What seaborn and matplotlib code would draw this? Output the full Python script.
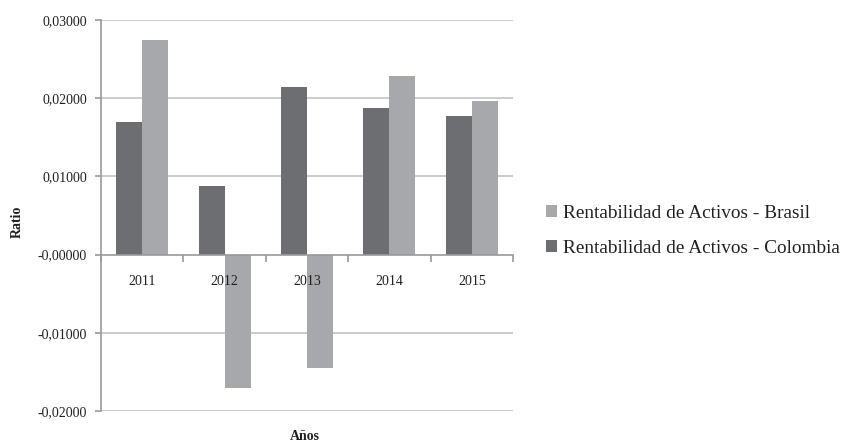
import matplotlib
matplotlib.use("Agg")
import matplotlib.pyplot as plt
import seaborn as sns
import pandas as pd
from matplotlib.ticker import FixedLocator, FixedFormatter

years = ["2011", "2012", "2013", "2014", "2015"]
colombia = [0.0169, 0.0088, 0.0214, 0.0187, 0.0177]
brasil = [0.0274, -0.0171, -0.0145, 0.0228, 0.0197]
series_names = ["Rentabilidad de Activos - Colombia", "Rentabilidad de Activos - Brasil"]
y_ticks = [-0.02, -0.01, 0.0, 0.01, 0.02, 0.03]
y_labels = ["-0,02000", "-0,01000", "-0,00000", "0,01000", "0,02000", "0,03000"]

df = pd.DataFrame({
    "Año": years * 2,
    "Serie": [series_names[0]] * len(years) + [series_names[1]] * len(years),
    "Ratio": colombia + brasil,
})

sns.set_theme(style="white")
plt.rcParams["font.family"] = ["Liberation Serif", "DejaVu Serif"]

fig = plt.figure(figsize=(8.47, 4.43), dpi=100)
ax = fig.add_axes([101 / 847, 1 - 411 / 443, (513 - 101) / 847, (411 - 20) / 443])

palette = {series_names[0]: "#6d6e71", series_names[1]: "#a7a8ab"}
sns.barplot(data=df, x="Año", y="Ratio", hue="Serie", hue_order=series_names,
            palette=palette, width=0.63, saturation=1, linewidth=0, ax=ax, legend=True)

ax.set_ylim(-0.02, 0.03)
ax.set_xlim(-0.5, 4.5)
ax.yaxis.set_major_locator(FixedLocator(y_ticks))
ax.yaxis.set_major_formatter(FixedFormatter(y_labels))
ax.grid(False)
for yv in y_ticks:
    if yv != 0:
        ax.axhline(yv, color="#c8c8c8", linewidth=1.3, zorder=0.5)
ax.set_axisbelow(False)

for s in ["top", "right"]:
    ax.spines[s].set_visible(False)
ax.spines["left"].set_color("#9a9a9a")
ax.spines["left"].set_linewidth(1.2)
ax.spines["bottom"].set_position(("data", 0))
ax.spines["bottom"].set_color("#9a9a9a")
ax.spines["bottom"].set_linewidth(1.2)

ax.tick_params(axis="y", which="major", left=True, length=4, width=1.2, color="#9a9a9a",
               labelsize=10, labelcolor="#231f20", pad=6)
ax.set_xticks(range(len(years)))
ax.set_xticklabels(years)
ax.xaxis.set_minor_locator(FixedLocator([-0.5, 0.5, 1.5, 2.5, 3.5, 4.5]))
ax.tick_params(axis="x", which="major", bottom=False, length=0, labelsize=10,
               labelcolor="#231f20", pad=15)
ax.tick_params(axis="x", which="minor", bottom=True, length=5, width=1.2, color="#9a9a9a",
               direction="out")

ax.set_xlabel("")
ax.set_ylabel("")
fig.text(17 / 847, 1 - 222 / 443, "Ratio", rotation=90, ha="center", va="center",
         fontsize=10, fontweight="bold", color="#231f20")
fig.text(305 / 847, 1 - 436 / 443, "Años", ha="center", va="center",
         fontsize=10, fontweight="bold", color="#231f20")

handles, labels = ax.get_legend_handles_labels()
order = [1, 0]
ax.legend([handles[i] for i in order], [labels[i] for i in order],
          loc="center left", bbox_to_anchor=(540 / 847, 1 - 231 / 443),
          bbox_transform=fig.transFigure, frameon=False, fontsize=13.9,
          handlelength=0.58, handleheight=0.58, handletextpad=0.32,
          labelspacing=0.95, labelcolor="#231f20", borderaxespad=0, borderpad=0.3)

fig.savefig("out.png", dpi=100)
